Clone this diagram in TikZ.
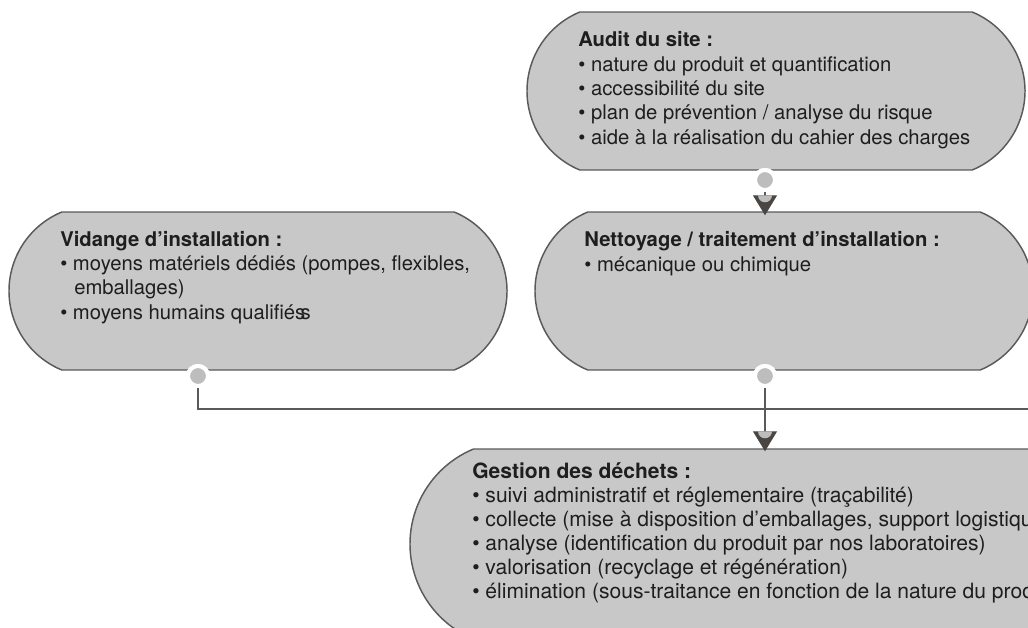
\documentclass[tikz,border=0pt]{standalone}
\usepackage{fontspec}
\setmainfont{TeX Gyre Heros}
\usetikzlibrary{shapes.misc, arrows.meta, calc}
\definecolor{boxgray}{HTML}{C8C8C8}
\definecolor{edgegray}{HTML}{5A5A5A}
\definecolor{dotgray}{HTML}{BDBDBD}
\definecolor{tipgray}{HTML}{4A4644}
\definecolor{inkgray}{HTML}{1E1E1E}
\tikzset{
  stage/.style={rounded rectangle, rounded rectangle arc length=135, draw=edgegray, line width=1.1pt,
    fill=boxgray, minimum width=373.5pt, minimum height=118.5pt, inner sep=0pt},
  txt/.style={anchor=base west, align=left, inner sep=0pt, text=inkgray,
    font=\fontsize{15.2pt}{18.2pt}\selectfont},
  port/.style={circle, fill=dotgray, draw=white, line width=3pt, minimum size=15pt, inner sep=0pt},
  link/.style={draw=edgegray, line width=1pt},
  tipped/.style={-{Triangle[length=15pt, width=18pt, color=tipgray]}}
}
\newcommand{\inlet}[1]{\fill[dotgray] (#1) ++(-5.25pt,0) arc[start angle=180, end angle=360, radius=5.25pt];}
\begin{document}
\begin{tikzpicture}[x=0.75pt, y=-0.75pt]
\useasboundingbox (0,0) rectangle (1028,628);
\clip (0,0) rectangle (1028,628);
\node[stage] (audit) at (776,91) {};
\node[stage] (nett) at (784,291) {};
\node[stage] (vid) at (258,291) {};
\node[stage, minimum width=525pt, minimum height=142.5pt] (gest) at (760,544) {};
\node[txt] (auditText) at (578,144) {\textbf{Audit du site :}\\
  • nature du produit et quantification\\
  • accessibilité du site\\
  • plan de prévention / analyse du risque\\
  • aide à la réalisation du cahier des charges};
\node[txt] (nettText) at (584,271) {\textbf{Nettoyage / traitement d’installation :}\\
  • mécanique ou chimique};
\node[txt] (vidText) at (60,319) {\textbf{Vidange d’installation :}\\
  • moyens matériels dédiés (pompes, flexibles,\\
  \hspace*{10.5pt}emballages)\\
  • moyens humains qualifiés\kern-3.5pt s};
\node[txt, font=\fontsize{15.8pt}{18pt}\selectfont] (gestText) at (472,598) {\textbf{Gestion des déchets :}\\
  • suivi administratif et réglementaire (traçabilité)\\
  • collecte (mise à disposition d’emballages, support logistique)\\
  • analyse (identification du produit par nos laboratoires)\\
  • valorisation (recyclage et régénération)\\
  • élimination (sous-traitance en fonction de la nature du produit)};
\node[port] (auditOut) at (765,180) {};
\node[port] (vidOut) at (198,376) {};
\node[port] (nettOut) at (765,376) {};
\coordinate (nettIn) at ($(auditOut |- nett.north)+(0,4)$);
\coordinate (gestIn) at ($(nettOut |- gest.north)+(0,3)$);
\coordinate (vidBend) at (198,409);
\coordinate (railEnd) at (1040,409);
\draw[link] (vidOut) -- (vidBend) -- (railEnd);
\draw[link, tipped] (auditOut) -- (nettIn);
\draw[link, tipped] (nettOut) -- (gestIn);
\node[port] at (auditOut) {};
\node[port] at (vidOut) {};
\node[port] at (nettOut) {};
\inlet{$(nettIn)+(0,-20)$}
\inlet{$(gestIn)+(0,-20)$}
\end{tikzpicture}
\end{document}
